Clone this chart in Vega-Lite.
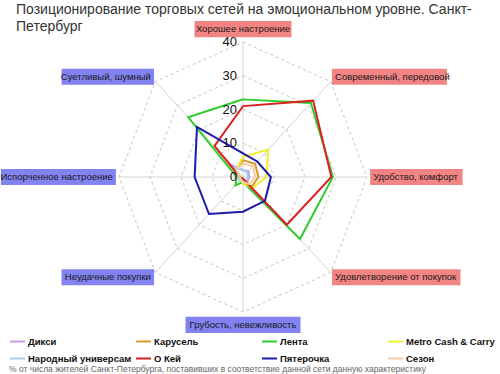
{
  "$schema": "https://vega.github.io/schema/vega-lite/v6.json",
  "width": 248,
  "height": 270,
  "autosize": {"type": "none"},
  "padding": {"left": 119, "top": 42, "right": 133, "bottom": 62},
  "background": "white",
  "config": {"view": {"stroke": null}, "font": "Liberation Sans"},
  "title": {
    "text": ["Позиционирование торговых сетей на эмоциональном уровне. Санкт-", "Петербург"],
    "anchor": "start",
    "frame": "group",
    "orient": "top",
    "offset": 8,
    "dx": -103,
    "dy": 21,
    "fontSize": 14,
    "fontWeight": "normal",
    "color": "#333333",
    "lineHeight": 17,
    "font": "Liberation Sans"
  },
  "datasets": {
    "axes": [
      {"a": "Хорошее настроение", "k": 0, "tone": "pos"},
      {"a": "Современный, передовой", "k": 1, "tone": "pos"},
      {"a": "Удобство, комфорт", "k": 2, "tone": "pos"},
      {"a": "Удовлетворение от покупок", "k": 3, "tone": "pos"},
      {"a": "Грубость, невежливость", "k": 4, "tone": "neg"},
      {"a": "Неудачные покупки", "k": 5, "tone": "neg"},
      {"a": "Испорченное настроение", "k": 6, "tone": "neg"},
      {"a": "Суетливый, шумный", "k": 7, "tone": "neg"}
    ],
    "rings": [
      {"ring": 10, "k": [0, 1, 2, 3, 4, 5, 6, 7]},
      {"ring": 20, "k": [0, 1, 2, 3, 4, 5, 6, 7]},
      {"ring": 30, "k": [0, 1, 2, 3, 4, 5, 6, 7]},
      {"ring": 40, "k": [0, 1, 2, 3, 4, 5, 6, 7]}
    ],
    "ticks": [{"t": 0}, {"t": 10}, {"t": 20}, {"t": 30}, {"t": 40}],
    "series": [
      {"s": "Дикси", "a": "Хорошее настроение", "v": 2},
      {"s": "Дикси", "a": "Современный, передовой", "v": 2.5},
      {"s": "Дикси", "a": "Удобство, комфорт", "v": 2},
      {"s": "Дикси", "a": "Удовлетворение от покупок", "v": 2},
      {"s": "Дикси", "a": "Грубость, невежливость", "v": 1},
      {"s": "Дикси", "a": "Неудачные покупки", "v": 1},
      {"s": "Дикси", "a": "Испорченное настроение", "v": 1.5},
      {"s": "Дикси", "a": "Суетливый, шумный", "v": 5},
      {"s": "Карусель", "a": "Хорошее настроение", "v": 5},
      {"s": "Карусель", "a": "Современный, передовой", "v": 5.5},
      {"s": "Карусель", "a": "Удобство, комфорт", "v": 5},
      {"s": "Карусель", "a": "Удовлетворение от покупок", "v": 4},
      {"s": "Карусель", "a": "Грубость, невежливость", "v": 2},
      {"s": "Карусель", "a": "Неудачные покупки", "v": 1},
      {"s": "Карусель", "a": "Испорченное настроение", "v": 1.5},
      {"s": "Карусель", "a": "Суетливый, шумный", "v": 3},
      {"s": "Лента", "a": "Хорошее настроение", "v": 23},
      {"s": "Лента", "a": "Современный, передовой", "v": 31},
      {"s": "Лента", "a": "Удобство, комфорт", "v": 29},
      {"s": "Лента", "a": "Удовлетворение от покупок", "v": 26},
      {"s": "Лента", "a": "Грубость, невежливость", "v": 1.5},
      {"s": "Лента", "a": "Неудачные покупки", "v": 3.5},
      {"s": "Лента", "a": "Испорченное настроение", "v": 2},
      {"s": "Лента", "a": "Суетливый, шумный", "v": 25},
      {"s": "Metro Cash & Carry", "a": "Хорошее настроение", "v": 6},
      {"s": "Metro Cash & Carry", "a": "Современный, передовой", "v": 11.5},
      {"s": "Metro Cash & Carry", "a": "Удобство, комфорт", "v": 7.5},
      {"s": "Metro Cash & Carry", "a": "Удовлетворение от покупок", "v": 4.5},
      {"s": "Metro Cash & Carry", "a": "Грубость, невежливость", "v": 2},
      {"s": "Metro Cash & Carry", "a": "Неудачные покупки", "v": 1},
      {"s": "Metro Cash & Carry", "a": "Испорченное настроение", "v": 1},
      {"s": "Metro Cash & Carry", "a": "Суетливый, шумный", "v": 3},
      {"s": "Народный универсам", "a": "Хорошее настроение", "v": 2},
      {"s": "Народный универсам", "a": "Современный, передовой", "v": 2},
      {"s": "Народный универсам", "a": "Удобство, комфорт", "v": 1.5},
      {"s": "Народный универсам", "a": "Удовлетворение от покупок", "v": 1.5},
      {"s": "Народный универсам", "a": "Грубость, невежливость", "v": 1},
      {"s": "Народный универсам", "a": "Неудачные покупки", "v": 1.5},
      {"s": "Народный универсам", "a": "Испорченное настроение", "v": 1.5},
      {"s": "Народный универсам", "a": "Суетливый, шумный", "v": 4},
      {"s": "О Кей", "a": "Хорошее настроение", "v": 21},
      {"s": "О Кей", "a": "Современный, передовой", "v": 32},
      {"s": "О Кей", "a": "Удобство, комфорт", "v": 28.5},
      {"s": "О Кей", "a": "Удовлетворение от покупок", "v": 20},
      {"s": "О Кей", "a": "Грубость, невежливость", "v": 0.5},
      {"s": "О Кей", "a": "Неудачные покупки", "v": 0.5},
      {"s": "О Кей", "a": "Испорченное настроение", "v": 1},
      {"s": "О Кей", "a": "Суетливый, шумный", "v": 13},
      {"s": "Пятерочка", "a": "Хорошее настроение", "v": 7},
      {"s": "Пятерочка", "a": "Современный, передовой", "v": 6.5},
      {"s": "Пятерочка", "a": "Удобство, комфорт", "v": 9},
      {"s": "Пятерочка", "a": "Удовлетворение от покупок", "v": 10},
      {"s": "Пятерочка", "a": "Грубость, невежливость", "v": 10.3},
      {"s": "Пятерочка", "a": "Неудачные покупки", "v": 15.5},
      {"s": "Пятерочка", "a": "Испорченное настроение", "v": 15.6},
      {"s": "Пятерочка", "a": "Суетливый, шумный", "v": 21},
      {"s": "Сезон", "a": "Хорошее настроение", "v": 4},
      {"s": "Сезон", "a": "Современный, передовой", "v": 4.5},
      {"s": "Сезон", "a": "Удобство, комфорт", "v": 4},
      {"s": "Сезон", "a": "Удовлетворение от покупок", "v": 3},
      {"s": "Сезон", "a": "Грубость, невежливость", "v": 1.5},
      {"s": "Сезон", "a": "Неудачные покупки", "v": 1},
      {"s": "Сезон", "a": "Испорченное настроение", "v": 1},
      {"s": "Сезон", "a": "Суетливый, шумный", "v": 3}
    ]
  },
  "layer": [
    {
      "data": {"name": "rings"},
      "transform": [
        {"flatten": ["k"]},
        {"calculate": "datum.ring*sin(datum.k*PI/4)", "as": "x"},
        {"calculate": "datum.ring*cos(datum.k*PI/4)", "as": "y"}
      ],
      "mark": {"type": "line", "interpolate": "linear-closed", "stroke": "#c4c4c4", "strokeWidth": 1, "strokeDash": [3, 3]},
      "encoding": {
        "x": {"field": "x", "type": "quantitative", "scale": {"domain": [-40, 40], "nice": false, "zero": false}, "axis": null},
        "y": {"field": "y", "type": "quantitative", "scale": {"domain": [-40, 40], "nice": false, "zero": false}, "axis": null},
        "detail": {"field": "ring"},
        "order": {"field": "k", "type": "quantitative"}
      }
    },
    {
      "data": {"name": "axes"},
      "transform": [
        {"calculate": "40*sin(datum.k*PI/4)", "as": "x"},
        {"calculate": "40*cos(datum.k*PI/4)", "as": "y"}
      ],
      "mark": {"type": "rule", "stroke": "#d4d4d4", "strokeWidth": 1},
      "encoding": {
        "x": {"field": "x", "type": "quantitative", "scale": {"domain": [-40, 40], "nice": false, "zero": false}, "axis": null},
        "y": {"field": "y", "type": "quantitative", "scale": {"domain": [-40, 40], "nice": false, "zero": false}, "axis": null},
        "x2": {"datum": 0},
        "y2": {"datum": 0}
      }
    },
    {
      "data": {"name": "series"},
      "transform": [
        {"lookup": "a", "from": {"data": {"name": "axes"}, "key": "a", "fields": ["k"]}},
        {"calculate": "datum.v*sin(datum.k*PI/4)", "as": "x"},
        {"calculate": "datum.v*cos(datum.k*PI/4)", "as": "y"}
      ],
      "mark": {"type": "line", "interpolate": "linear-closed", "strokeWidth": 2},
      "encoding": {
        "x": {"field": "x", "type": "quantitative", "scale": {"domain": [-40, 40], "nice": false, "zero": false}, "axis": null},
        "y": {"field": "y", "type": "quantitative", "scale": {"domain": [-40, 40], "nice": false, "zero": false}, "axis": null},
        "order": {"field": "k", "type": "quantitative"},
        "stroke": {
          "field": "s",
          "type": "nominal",
          "scale": {
            "domain": ["Дикси", "Карусель", "Лента", "Metro Cash & Carry", "Народный универсам", "О Кей", "Пятерочка", "Сезон"],
            "range": ["#c79be6", "#d99a2a", "#2ecc2e", "#f2ee2c", "#a6cdee", "#dd1f1f", "#1c1ca8", "#f3cfa3"]
          },
          "legend": {
            "title": "% от числа жителей Санкт-Петербурга, поставивших в соответствие данной сети данную характеристику",
            "titleOrient": "bottom",
            "titleAnchor": "start",
            "titleFontSize": 8.5,
            "titleFontWeight": "normal",
            "titleColor": "#666666",
            "titleLimit": 600,
            "titlePadding": 2,
            "orient": "none",
            "legendX": -110,
            "legendY": 291,
            "direction": "horizontal",
            "columns": 4,
            "gridAlign": "all",
            "columnPadding": 0,
            "rowPadding": 4,
            "padding": 0,
            "symbolType": "stroke",
            "symbolSize": 225,
            "symbolStrokeWidth": 2,
            "labelFontSize": 9.5,
            "labelFontWeight": "bold",
            "labelColor": "#111111",
            "labelOffset": 2,
            "labelLimit": 200
          }
        }
      }
    },
    {
      "data": {"name": "ticks"},
      "mark": {"type": "text", "align": "right", "baseline": "middle", "dx": -6, "dy": 0, "fontSize": 13, "color": "#111111"},
      "encoding": {
        "x": {"datum": 0, "type": "quantitative", "scale": {"domain": [-40, 40], "nice": false, "zero": false}, "axis": null},
        "y": {"field": "t", "type": "quantitative", "scale": {"domain": [-40, 40], "nice": false, "zero": false}, "axis": null},
        "text": {"field": "t", "type": "quantitative"}
      }
    },
    {
      "data": {"name": "axes"},
      "transform": [
        {"calculate": "sin(datum.k*PI/4)", "as": "sn"},
        {"calculate": "cos(datum.k*PI/4)", "as": "cs"},
        {"calculate": "abs(datum.cs) > 0.9 ? 43.8 : 42", "as": "r"},
        {"calculate": "datum.r*datum.sn", "as": "lx"},
        {"calculate": "datum.r*datum.cs", "as": "ly"},
        {"calculate": "(4.5*length(datum.a)+16)/3.1", "as": "w"},
        {"calculate": "datum.sn > 0.1 ? datum.lx - 1 : (datum.sn < -0.1 ? datum.lx + 1 - datum.w : datum.lx - datum.w/2)", "as": "bx1"},
        {"calculate": "datum.bx1 + datum.w", "as": "bx2"},
        {"calculate": "datum.ly - 2.4", "as": "by1"},
        {"calculate": "datum.ly + 2.4", "as": "by2"}
      ],
      "layer": [
        {
          "mark": {"type": "rect"},
          "encoding": {
            "x": {"field": "bx1", "type": "quantitative", "scale": {"domain": [-40, 40], "nice": false, "zero": false}, "axis": null},
            "x2": {"field": "bx2"},
            "y": {"field": "by1", "type": "quantitative", "scale": {"domain": [-40, 40], "nice": false, "zero": false}, "axis": null},
            "y2": {"field": "by2"},
            "fill": {"field": "tone", "type": "nominal", "scale": {"domain": ["pos", "neg"], "range": ["#f28484", "#8282f0"]}, "legend": null}
          }
        },
        {
          "transform": [{"filter": "datum.sn > 0.1"}],
          "mark": {"type": "text", "align": "left", "baseline": "middle", "fontSize": 9.5, "color": "#1a1a1a"},
          "encoding": {
            "x": {"field": "lx", "type": "quantitative", "scale": {"domain": [-40, 40], "nice": false, "zero": false}, "axis": null},
            "y": {"field": "ly", "type": "quantitative", "scale": {"domain": [-40, 40], "nice": false, "zero": false}, "axis": null},
            "text": {"field": "a"}
          }
        },
        {
          "transform": [{"filter": "datum.sn < -0.1"}],
          "mark": {"type": "text", "align": "right", "baseline": "middle", "fontSize": 9.5, "color": "#1a1a1a"},
          "encoding": {
            "x": {"field": "lx", "type": "quantitative", "scale": {"domain": [-40, 40], "nice": false, "zero": false}, "axis": null},
            "y": {"field": "ly", "type": "quantitative", "scale": {"domain": [-40, 40], "nice": false, "zero": false}, "axis": null},
            "text": {"field": "a"}
          }
        },
        {
          "transform": [{"filter": "abs(datum.sn) <= 0.1"}],
          "mark": {"type": "text", "align": "center", "baseline": "middle", "fontSize": 9.5, "color": "#1a1a1a"},
          "encoding": {
            "x": {"field": "lx", "type": "quantitative", "scale": {"domain": [-40, 40], "nice": false, "zero": false}, "axis": null},
            "y": {"field": "ly", "type": "quantitative", "scale": {"domain": [-40, 40], "nice": false, "zero": false}, "axis": null},
            "text": {"field": "a"}
          }
        }
      ]
    }
  ]
}
